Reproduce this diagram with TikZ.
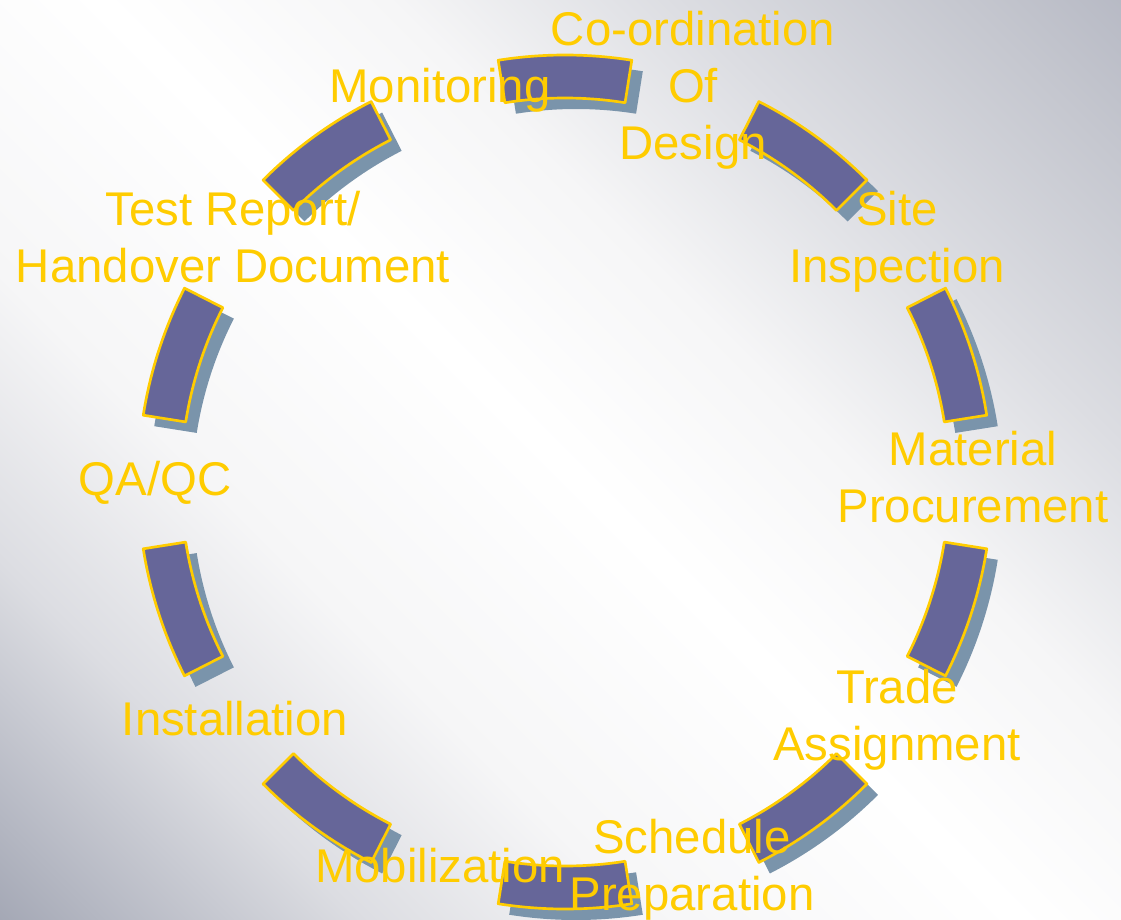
\documentclass[tikz,border=0pt]{standalone}
\usepackage{fontspec}
\setmainfont{Liberation Sans}
\usepackage{tikz}

\definecolor{segfill}{RGB}{102,102,153}
\definecolor{segshade}{RGB}{122,148,171}
\definecolor{segline}{RGB}{255,204,0}
\definecolor{bgdark}{RGB}{136,141,158}
\definecolor{bgmid}{RGB}{180,183,194}
\definecolor{bglight}{RGB}{220,221,226}
\definecolor{bgpale}{RGB}{246,246,247}
\definecolor{bgupper}{RGB}{197,199,207}
\definecolor{bgcorner}{RGB}{168,171,185}

\pgfdeclarehorizontalshading{backdrop}{100bp}{color(0bp)=(bgdark); color(8bp)=(bgdark); color(18bp)=(bgmid); color(27bp)=(bglight); color(37bp)=(bgpale); color(50bp)=(white); color(60bp)=(bgpale); color(70bp)=(bglight); color(80bp)=(bgupper); color(92bp)=(bgcorner); color(100bp)=(bgcorner)}

\begin{document}
\begin{tikzpicture}[x=0.75pt,y=0.75pt,yscale=-1,xscale=1,
  seg/.style={draw=segline,line width=2pt,fill=segfill,line join=round},
  segshadow/.style={fill=segshade},
  lbl/.style={text=segline,font=\fontsize{35.5}{42.75}\selectfont,align=center,anchor=base,inner sep=0pt}]

%Backdrop
\useasboundingbox (0,0) rectangle (1121,920);
\fill[shading=backdrop,shading angle=45] (0,0) rectangle (1121,920);

%Shape: Block Arc shadows
\begin{scope}[shift={(576,493)}]
\fill[segshadow] (9:427) arc[start angle=9,end angle=27,radius=427] -- (27:384) arc[start angle=27,end angle=9,radius=384] -- cycle;
\fill[segshadow] (45:427) arc[start angle=45,end angle=63,radius=427] -- (63:384) arc[start angle=63,end angle=45,radius=384] -- cycle;
\fill[segshadow] (81:427) arc[start angle=81,end angle=99,radius=427] -- (99:384) arc[start angle=99,end angle=81,radius=384] -- cycle;
\fill[segshadow] (117:427) arc[start angle=117,end angle=135,radius=427] -- (135:384) arc[start angle=135,end angle=117,radius=384] -- cycle;
\fill[segshadow] (153:427) arc[start angle=153,end angle=171,radius=427] -- (171:384) arc[start angle=171,end angle=153,radius=384] -- cycle;
\fill[segshadow] (189:427) arc[start angle=189,end angle=207,radius=427] -- (207:384) arc[start angle=207,end angle=189,radius=384] -- cycle;
\fill[segshadow] (225:427) arc[start angle=225,end angle=243,radius=427] -- (243:384) arc[start angle=243,end angle=225,radius=384] -- cycle;
\fill[segshadow] (261:427) arc[start angle=261,end angle=279,radius=427] -- (279:384) arc[start angle=279,end angle=261,radius=384] -- cycle;
\fill[segshadow] (297:427) arc[start angle=297,end angle=315,radius=427] -- (315:384) arc[start angle=315,end angle=297,radius=384] -- cycle;
\fill[segshadow] (333:427) arc[start angle=333,end angle=351,radius=427] -- (351:384) arc[start angle=351,end angle=333,radius=384] -- cycle;
\end{scope}

%Shape: Block Arc
\begin{scope}[shift={(565,482)}]
\draw[seg] (9:427) arc[start angle=9,end angle=27,radius=427] -- (27:384) arc[start angle=27,end angle=9,radius=384] -- cycle;
\draw[seg] (45:427) arc[start angle=45,end angle=63,radius=427] -- (63:384) arc[start angle=63,end angle=45,radius=384] -- cycle;
\draw[seg] (81:427) arc[start angle=81,end angle=99,radius=427] -- (99:384) arc[start angle=99,end angle=81,radius=384] -- cycle;
\draw[seg] (117:427) arc[start angle=117,end angle=135,radius=427] -- (135:384) arc[start angle=135,end angle=117,radius=384] -- cycle;
\draw[seg] (153:427) arc[start angle=153,end angle=171,radius=427] -- (171:384) arc[start angle=171,end angle=153,radius=384] -- cycle;
\draw[seg] (189:427) arc[start angle=189,end angle=207,radius=427] -- (207:384) arc[start angle=207,end angle=189,radius=384] -- cycle;
\draw[seg] (225:427) arc[start angle=225,end angle=243,radius=427] -- (243:384) arc[start angle=243,end angle=225,radius=384] -- cycle;
\draw[seg] (261:427) arc[start angle=261,end angle=279,radius=427] -- (279:384) arc[start angle=279,end angle=261,radius=384] -- cycle;
\draw[seg] (297:427) arc[start angle=297,end angle=315,radius=427] -- (315:384) arc[start angle=315,end angle=297,radius=384] -- cycle;
\draw[seg] (333:427) arc[start angle=333,end angle=351,radius=427] -- (351:384) arc[start angle=351,end angle=333,radius=384] -- cycle;
\end{scope}

% Text Node
\node[lbl] (coord) at (693,160) {Co-ordination\\Of\\Design};
% Text Node
\node[lbl] (monitor) at (440,103) {Monitoring};
% Text Node
\node[lbl] (site) at (897,282) {Site\\Inspection};
% Text Node
\node[lbl] (report) at (233,282) {Test Report/\\Handover Document};
% Text Node
\node[lbl] (material) at (973,522) {Material\\Procurement};
% Text Node
\node[lbl] (qaqc) at (155,495) {QA/QC};
% Text Node
\node[lbl] (trade) at (897,760) {Trade\\Assignment};
% Text Node
\node[lbl] (install) at (235,735) {Installation};
% Text Node
\node[lbl] (schedule) at (692,910) {Schedule\\Preparation};
% Text Node
\node[lbl] (mobil) at (440,882) {Mobilization};

\end{tikzpicture}
\end{document}
